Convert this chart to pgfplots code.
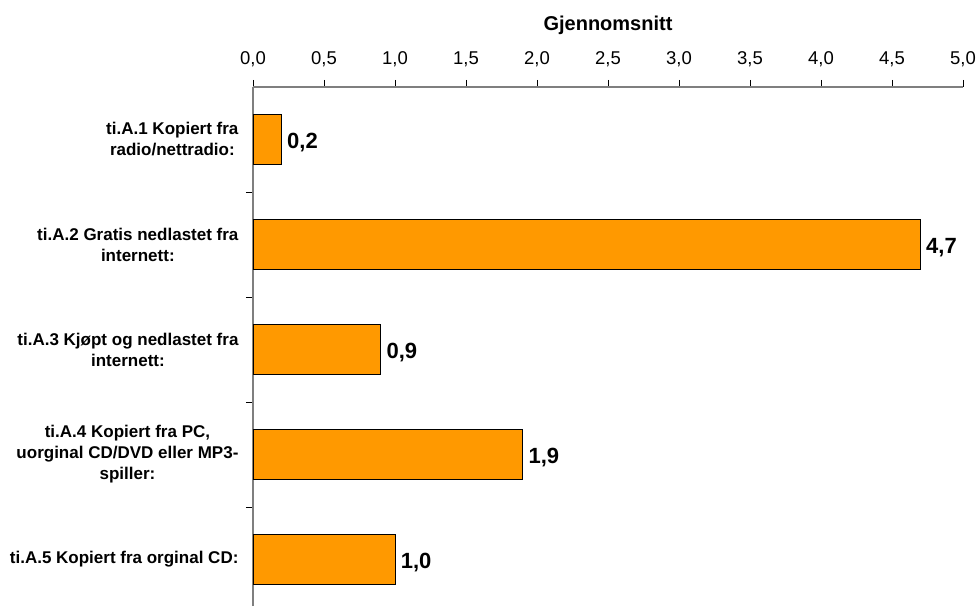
\documentclass[border=0pt]{standalone}
\usepackage{pgfplots}
\pgfplotsset{compat=1.18}
\usepackage{fontspec}
\setmainfont{Liberation Sans}
\definecolor{barorange}{HTML}{FF9900}
\definecolor{axisgray}{HTML}{7F7F7F}

\begin{document}
\begin{tikzpicture}
  \begin{axis}[
    scale only axis,
    width=710pt, height=519pt,
    xbar,
    xmin=0, xmax=5,
    ymin=0.557, ymax=5.5,
    axis x line*=top,
    axis y line*=left,
    axis line style={axisgray, line width=1.3pt},
    tick align=outside,
    tick style={black, line width=0.8pt},
    major tick length=7pt,
    minor tick length=7pt,
    xtick={0,0.5,...,5},
    xticklabel={\pgfmathprintnumber[assume math mode=true,fixed,fixed zerofill,precision=1,use comma]{\tick}},
    xticklabel style={font=\fontsize{18.5}{21}\selectfont, yshift=10pt},
    xlabel={\bfseries Gjennomsnitt},
    xlabel style={font=\fontsize{20}{22}\selectfont, yshift=10pt},
    ytick={1,2,3,4,5},
    yticklabels={
      {ti.A.5 Kopiert fra orginal CD:},
      {ti.A.4 Kopiert fra PC,\\uorginal CD/DVD eller MP3-\\spiller:},
      {ti.A.3 Kjøpt og nedlastet fra\\internett:},
      {ti.A.2 Gratis nedlastet fra\\internett:},
      {ti.A.1 Kopiert fra\\radio/nettradio:}
    },
    major y tick style={draw=none},
    minor ytick={1.5,2.5,3.5,4.5},
    yticklabel style={font=\bfseries\fontsize{17}{21}\selectfont, align=center, xshift=-4pt},
    bar width=0.476,
    point meta=x,
    nodes near coords={\pgfmathprintnumber[assume math mode=true,fixed,fixed zerofill,precision=1,use comma]{\pgfplotspointmeta}},
    nodes near coords style={font=\bfseries\fontsize{22}{24}\selectfont, anchor=west, xshift=2pt, yshift=-3pt},
  ]
  \addplot[fill=barorange, draw=black, line width=0.9pt]
  coordinates {
    (0.2,5)
    (4.7,4)
    (0.9,3)
    (1.9,2)
    (1.0,1)
  };
  \coordinate (tl) at (axis cs:0,5.5);
  \end{axis}
  \pgfresetboundingbox
  \path (tl) ++(-253pt,87pt) rectangle ++(977pt,-606pt);
\end{tikzpicture}
\end{document}
